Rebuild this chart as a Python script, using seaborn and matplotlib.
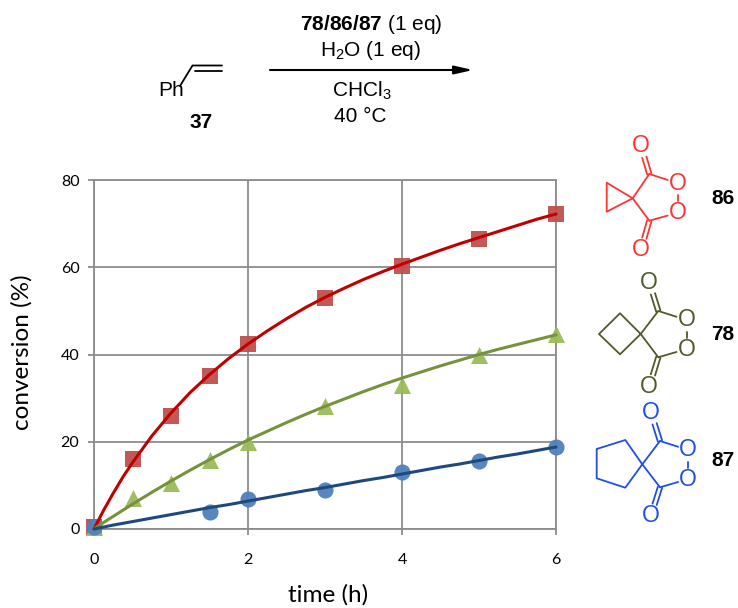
import pandas as pd
import matplotlib
matplotlib.use('Agg')
import matplotlib.pyplot as plt
import seaborn as sns

# puntos medidos
t_86 = [0, 0.5, 1, 1.5, 2, 3, 4, 5, 6]
y_86 = [0.5, 16, 26, 35, 42.5, 53, 60.3, 66.5, 72.3]
t_78 = [0, 0.5, 1, 1.5, 2, 3, 4, 5, 6]
y_78 = [0.5, 7, 10.5, 15.8, 20, 28.3, 33, 40, 44.7]
t_87 = [0, 1.5, 2, 3, 4, 5, 6]
y_87 = [0.5, 4, 6.8, 9, 13, 15.7, 18.8]

# curvas de ajuste
t_fit = [0, 0.125, 0.25, 0.375, 0.5, 0.75, 1, 1.25, 1.5, 1.75, 2, 2.25, 2.5, 2.75, 3, 3.25, 3.5, 3.75,
         4, 4.25, 4.5, 4.75, 5, 5.25, 5.5, 5.75, 6]
fit_86 = [0, 4.3, 8.2, 11.9, 15.2, 21.3, 26.6, 31.3, 35.4, 39.1, 42.4, 45.4, 48.2, 50.8, 53.1, 55.2, 57.2, 59,
          60.7, 62.3, 63.9, 65.4, 66.8, 68.2, 69.6, 71, 72.2]
fit_78 = [0, 1.5, 2.9, 4.3, 5.7, 8.4, 11, 13.5, 15.9, 18.2, 20.4, 22.4, 24.4, 26.3, 28.1, 29.8, 31.5, 33.1,
          34.6, 36, 37.4, 38.7, 40, 41.2, 42.3, 43.4, 44.5]
fit_87 = [0, 0.45, 0.9, 1.3, 1.7, 2.5, 3.3, 4.1, 4.9, 5.6, 6.4, 7.2, 8, 8.8, 9.5, 10.3, 11.1, 11.8,
          12.6, 13.4, 14.2, 14.9, 15.7, 16.5, 17.2, 18, 18.8]

ticks_x = [0, 2, 4, 6]
ticks_y = [0, 20, 40, 60, 80]

sns.set_style('white')
plt.rcParams['text.color'] = 'black'
plt.rcParams['mathtext.fontset'] = 'custom'
plt.rcParams['mathtext.rm'] = 'Liberation Sans'
plt.rcParams['mathtext.bf'] = 'Liberation Sans:bold'
plt.rcParams['mathtext.default'] = 'regular'

GRIS = '#8c8c8c'
ROJO = '#fb3535'
VERDE = '#4f5b2b'
AZUL = '#1f4fe6'

fig = plt.figure(figsize=(7.38, 6.08), dpi=100)
ax = fig.add_axes([94 / 738, 1 - 529 / 608, 462 / 738, 349 / 608])

series = [
    (t_86, y_86, fit_86, 's', '#c0504d', '#c00000', 118),
    (t_78, y_78, fit_78, '^', '#9bbb59', '#76923c', 150),
    (t_87, y_87, fit_87, 'o', '#4f81bd', '#1f497d', 135),
]
for t, y, fit, marca, color_m, color_l, tam in series:
    sns.scatterplot(x=t, y=y, marker=marca, color=color_m, s=tam, linewidth=0,
                    alpha=0.95, clip_on=False, zorder=3, ax=ax)
    sns.lineplot(x=t_fit, y=fit, color=color_l, linewidth=2.2, clip_on=False,
                 zorder=4, errorbar=None, ax=ax)

ax.set_xlim(0, 6)
ax.set_ylim(0, 80)
ax.set_xticks(ticks_x)
ax.set_yticks(ticks_y)
ax.grid(True, color=GRIS, linewidth=1.3)
ax.set_axisbelow(True)
for lado in ax.spines.values():
    lado.set_color(GRIS)
    lado.set_linewidth(1.3)
ax.tick_params(axis='x', length=4, width=1.3, color=GRIS, pad=13, labelsize=11.5, bottom=True)
ax.tick_params(axis='y', length=4.5, width=1.3, color=GRIS, pad=6, labelsize=11.5, left=True)
for etiqueta in ax.get_xticklabels() + ax.get_yticklabels():
    etiqueta.set_family('Lato')
    etiqueta.set_color('black')

# capa en pixeles para el esquema de reaccion y las moleculas
capa = fig.add_axes([0, 0, 1, 1], zorder=5)
capa.set_xlim(0, 738)
capa.set_ylim(608, 0)
capa.axis('off')
capa.patch.set_alpha(0)

capa.text(328, 595, 'time (h)', ha='center', va='center', fontsize=17.5, family='Lato')
capa.text(22, 352, 'conversion (%)', ha='center', va='center', rotation=90, fontsize=17.5, family='Lato')


def texto(x, y, s, **kw):
    kw.setdefault('fontsize', 15)
    capa.text(x, y, s, ha='center', va='center', family='Liberation Sans', **kw)


def trazo(xs, ys, color='black', lw=1.3):
    capa.plot(xs, ys, color=color, linewidth=lw, solid_capstyle='round')


texto(371, 24, r'$\mathbf{78/86/87}$ (1 eq)')
texto(371, 51, 'H$_2$O (1 eq)')
texto(362, 91, 'CHCl$_3$')
texto(360, 116, '40 °C')
texto(171, 91, 'Ph')
texto(201, 122, '37', fontweight='bold')
trazo([180, 192.5, 222], [86, 65.5, 65.5])
trazo([195, 222], [70.5, 70.5])
capa.annotate('', xy=(473, 70), xytext=(270, 70),
              arrowprops=dict(arrowstyle='-|>,head_length=1.1,head_width=0.25', color='black',
                              lw=1.5, shrinkA=0, shrinkB=0))


def molecula(anillo, espiro, c1, c2, o1, o2, oc1, oc2, color, nombre, y_nombre):
    xs = [p[0] for p in anillo]
    ys = [p[1] for p in anillo]
    trazo(xs, ys, color)
    for c, o, oc in [(c1, o1, oc1), (c2, o2, oc2)]:
        trazo([espiro[0], c[0]], [espiro[1], c[1]], color)
        # enlace hacia el oxigeno del anillo
        trazo([c[0], c[0] + (o[0] - c[0]) * 0.64], [c[1], c[1] + (o[1] - c[1]) * 0.64], color)
        # doble enlace C=O
        dx = oc[0] - c[0]
        dy = oc[1] - c[1]
        largo = (dx ** 2 + dy ** 2) ** 0.5
        for d in (-2.2, 2.2):
            px = -dy / largo * d
            py = dx / largo * d
            trazo([c[0] + px, c[0] + dx * 0.6 + px], [c[1] + py, c[1] + dy * 0.6 + py], color)
        texto(o[0], o[1], 'O', color=color, fontsize=16.5)
        texto(oc[0], oc[1], 'O', color=color, fontsize=16.5)
    trazo([o1[0], o1[0]], [o1[1] + 11.5, o2[1] - 11.5], color)
    texto(723, y_nombre, nombre, fontweight='bold', fontsize=15)


molecula([(632.7, 198.3), (606.7, 182.7), (606.7, 211.7), (632.7, 198.3)], (632.7, 198.3),
         (649.3, 174), (649.3, 220.7), (678, 183.3), (678, 212.7), (641, 146), (641, 250),
         ROJO, '86', 198)
molecula([(640.7, 334), (620, 313.3), (599, 334), (620, 354.3), (640.7, 334)], (640.7, 334),
         (658.3, 311), (658.3, 357.3), (686.7, 320), (686.7, 349), (649.3, 282.3), (649.3, 386.7),
         VERDE, '78', 334)
molecula([(642.3, 464.3), (625.3, 440), (596.7, 449), (596.7, 478.3), (625.3, 487.7), (642.3, 464.3)],
         (642.3, 464.3), (660, 441), (660, 487.3), (688.3, 450), (688.3, 479), (651, 412.3), (651, 515.7),
         AZUL, '87', 461)

fig.savefig('out.png', dpi=100)
